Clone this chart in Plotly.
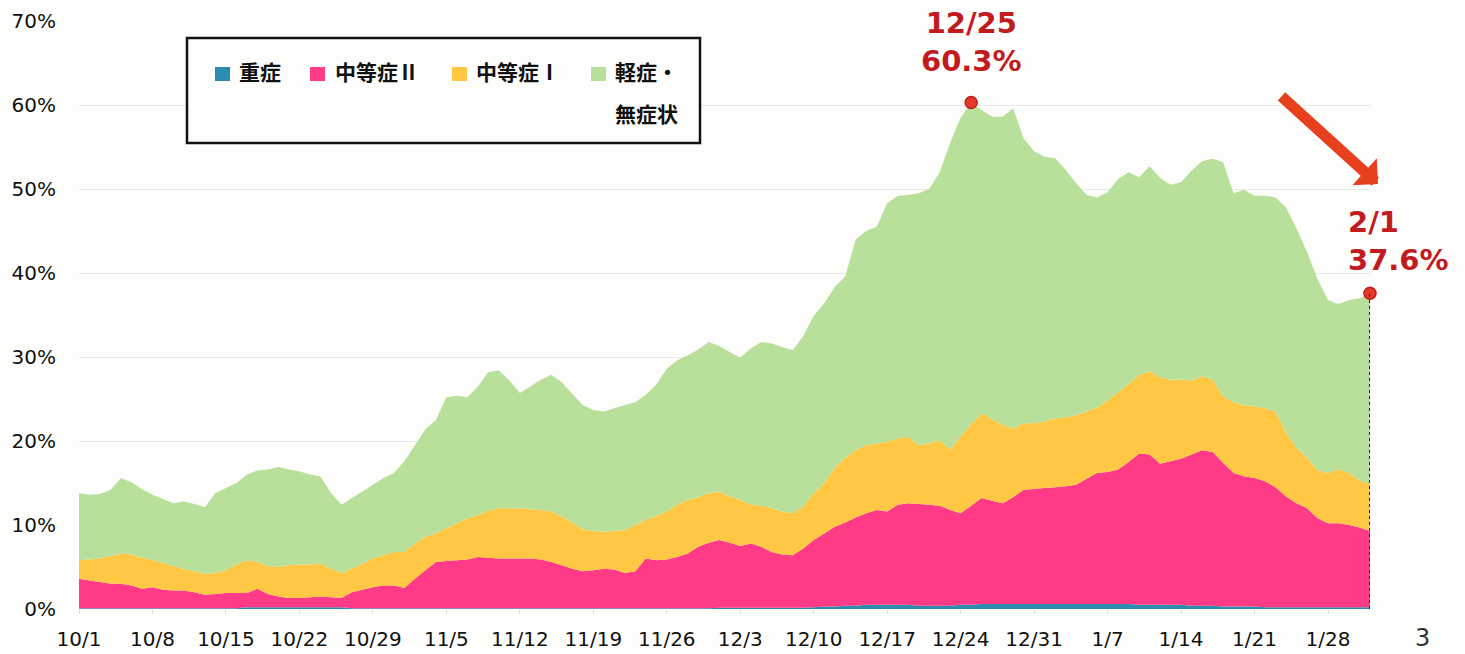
import pandas as pd
import numpy as np
import plotly.graph_objects as go

# ---------------- data (share of beds, %) ----------------
dates = pd.date_range("2020-10-01", "2021-02-01", freq="D")

# top of the stack (total occupancy)
total = [13.8, 13.6, 13.7, 14.2, 15.6, 15.1, 14.3, 13.6, 13.1, 12.6,
         12.8, 12.5, 12.1, 13.8, 14.4, 15.0, 16.0, 16.5, 16.6, 16.9,
         16.6, 16.4, 16.0, 15.8, 13.8, 12.4, 13.2, 14.0, 14.8, 15.6,
         16.2, 17.6, 19.5, 21.4, 22.5, 25.2, 25.4, 25.2, 26.5, 28.2,
         28.4, 27.2, 25.7, 26.5, 27.3, 27.9, 27.0, 25.6, 24.3, 23.7,
         23.5, 23.9, 24.3, 24.6, 25.5, 26.7, 28.6, 29.6, 30.2, 30.9,
         31.8, 31.3, 30.6, 29.9, 31.0, 31.8, 31.6, 31.2, 30.8, 32.5,
         34.9, 36.4, 38.3, 39.6, 44.0, 45.0, 45.5, 48.3, 49.2, 49.3,
         49.5, 50.0, 52.0, 55.5, 58.5, 60.3, 59.4, 58.6, 58.6, 59.6,
         56.0, 54.5, 53.8, 53.7, 52.3, 50.7, 49.3, 49.0, 49.6, 51.2,
         52.0, 51.4, 52.7, 51.3, 50.5, 50.8, 52.2, 53.3, 53.6, 53.2,
         49.5, 49.9, 49.2, 49.2, 49.0, 47.8, 45.3, 42.5, 39.3, 36.8,
         36.3, 36.8, 37.0, 37.6]

# top of the yellow band (severe + moderate II + moderate I)
upto_mod1 = [5.8, 5.9, 6.0, 6.3, 6.6, 6.5, 6.1, 5.8, 5.5, 5.1,
             4.8, 4.5, 4.2, 4.3, 4.6, 5.3, 5.8, 5.6, 5.1, 5.0,
             5.2, 5.3, 5.3, 5.4, 4.8, 4.3, 4.8, 5.4, 6.0, 6.4,
             6.8, 6.8, 7.8, 8.6, 9.0, 9.6, 10.2, 10.8, 11.2, 11.7,
             12.0, 12.0, 12.0, 11.9, 11.8, 11.6, 11.0, 10.3, 9.5, 9.3,
             9.2, 9.3, 9.4, 10.0, 10.6, 11.1, 11.6, 12.4, 13.0, 13.3,
             13.8, 14.0, 13.4, 13.0, 12.4, 12.3, 12.0, 11.6, 11.4, 12.2,
             13.8, 15.0, 16.8, 18.0, 18.9, 19.5, 19.7, 19.9, 20.3, 20.5,
             19.5, 19.7, 20.1, 19.0, 20.6, 22.0, 23.3, 22.6, 21.9, 21.5,
             22.1, 22.1, 22.3, 22.7, 22.8, 23.1, 23.5, 24.0, 24.8, 25.8,
             26.8, 27.9, 28.3, 27.6, 27.3, 27.3, 27.2, 27.7, 27.3, 25.3,
             24.6, 24.3, 24.1, 23.9, 23.5, 21.0, 19.2, 18.0, 16.5, 16.2,
             16.6, 16.2, 15.3, 14.9]

# top of the pink band (severe + moderate II)
upto_mod2 = [3.6, 3.4, 3.2, 3.0, 3.0, 2.8, 2.4, 2.6, 2.3, 2.2,
             2.2, 2.0, 1.7, 1.8, 1.9, 1.9, 1.9, 2.4, 1.8, 1.5,
             1.3, 1.3, 1.4, 1.5, 1.4, 1.3, 2.0, 2.3, 2.6, 2.8,
             2.8, 2.5, 3.6, 4.6, 5.6, 5.7, 5.8, 5.9, 6.2, 6.1,
             6.0, 6.0, 6.0, 6.0, 5.9, 5.6, 5.2, 4.8, 4.5, 4.6,
             4.8, 4.7, 4.3, 4.5, 6.0, 5.8, 5.9, 6.2, 6.6, 7.4,
             7.9, 8.2, 7.9, 7.5, 7.8, 7.4, 6.8, 6.5, 6.4, 7.2,
             8.2, 9.0, 9.8, 10.3, 10.9, 11.4, 11.8, 11.6, 12.4, 12.6,
             12.5, 12.4, 12.3, 11.8, 11.4, 12.3, 13.2, 12.9, 12.6, 13.3,
             14.2, 14.3, 14.4, 14.5, 14.6, 14.8, 15.5, 16.2, 16.3, 16.6,
             17.5, 18.5, 18.4, 17.3, 17.6, 17.9, 18.4, 18.9, 18.7, 17.4,
             16.2, 15.8, 15.6, 15.2, 14.5, 13.4, 12.6, 12.0, 10.8, 10.2,
             10.2, 10.0, 9.7, 9.3]

# severe band
severe = [0.1, 0.1, 0.1, 0.1, 0.1, 0.1, 0.1, 0.1, 0.1, 0.1,
          0.1, 0.1, 0.1, 0.1, 0.1, 0.1, 0.2, 0.2, 0.2, 0.2,
          0.2, 0.2, 0.2, 0.2, 0.2, 0.2, 0.1, 0.1, 0.1, 0.1,
          0.1, 0.1, 0.1, 0.1, 0.1, 0.1, 0.1, 0.1, 0.1, 0.1,
          0.1, 0.1, 0.1, 0.1, 0.1, 0.1, 0.1, 0.1, 0.1, 0.1,
          0.1, 0.1, 0.1, 0.1, 0.1, 0.1, 0.1, 0.1, 0.1, 0.1,
          0.1, 0.15, 0.15, 0.15, 0.15, 0.15, 0.15, 0.15, 0.15, 0.15,
          0.2, 0.3, 0.3, 0.4, 0.4, 0.5, 0.5, 0.5, 0.5, 0.5,
          0.4, 0.4, 0.4, 0.4, 0.5, 0.5, 0.6, 0.6, 0.6, 0.6,
          0.6, 0.6, 0.6, 0.6, 0.6, 0.6, 0.6, 0.6, 0.6, 0.6,
          0.6, 0.5, 0.5, 0.5, 0.5, 0.5, 0.4, 0.4, 0.4, 0.3,
          0.3, 0.3, 0.3, 0.2, 0.2, 0.2, 0.2, 0.2, 0.2, 0.2,
          0.2, 0.2, 0.2, 0.2]

series_names = ["重症", "中等症Ⅱ", "中等症Ⅰ", "軽症・無症状"]
series_colors = ["#2c8db0", "#ff3a86", "#ffc744", "#b9e09b"]

tick_dates = ["2020-10-01", "2020-10-08", "2020-10-15", "2020-10-22", "2020-10-29",
              "2020-11-05", "2020-11-12", "2020-11-19", "2020-11-26", "2020-12-03",
              "2020-12-10", "2020-12-17", "2020-12-24", "2020-12-31", "2021-01-07",
              "2021-01-14", "2021-01-21", "2021-01-28"]
tick_labels = ["10/1", "10/8", "10/15", "10/22", "10/29", "11/5", "11/12", "11/19",
               "11/26", "12/3", "12/10", "12/17", "12/24", "12/31", "1/7", "1/14",
               "1/21", "1/28"]
y_ticks = [0, 10, 20, 30, 40, 50, 60, 70]
y_labels = ["0%", "10%", "20%", "30%", "40%", "50%", "60%", "70%"]

peak_idx = 85      # 12/25
last_idx = 123     # 2/1

# ---------------- derive the stacked components ----------------
sev = np.array(severe)
mod2 = np.array(upto_mod2) - sev
mod1 = np.array(upto_mod1) - np.array(upto_mod2)
mild = np.array(total) - np.array(upto_mod1)
components = [sev, mod2, mod1, mild]

# ---------------- figure ----------------
W, H = 1465, 654
L, R, T, B = 79, 95, 21, 45
PW, PH = W - L - R, H - T - B


def px(x):
    return (x - L) / PW


def py(y):
    return (H - B - y) / PH


fig = go.Figure()
for name, vals, col in zip(series_names, components, series_colors):
    fig.add_trace(go.Scatter(
        x=dates, y=vals, name=name, stackgroup="one", mode="none",
        fillcolor=col, line=dict(width=0), showlegend=False,
        hovertemplate="%{x|%m/%d}: %{y:.1f}%<extra>" + name + "</extra>"))

# highlighted points
fig.add_trace(go.Scatter(
    x=[dates[peak_idx], dates[last_idx]], y=[total[peak_idx], total[last_idx]],
    mode="markers", showlegend=False, cliponaxis=False,
    marker=dict(size=12, color="#e4392a", line=dict(color="#c01e1e", width=1.5))))

# dotted vertical line at 2/1
fig.add_shape(type="line", xref="x", yref="y",
              x0=dates[last_idx], x1=dates[last_idx], y0=0, y1=total[last_idx],
              line=dict(color="#222", width=2, dash="dot"), layer="above")

red = "#c21b1f"
fig.add_annotation(x=dates[peak_idx], xref="x", y=py(42), yref="paper",
                   text=f"{dates[peak_idx].month}/{dates[peak_idx].day}<br>{total[peak_idx]:.1f}%",
                   showarrow=False, xanchor="center", yanchor="middle",
                   font=dict(family="DejaVu Sans", size=29, color=red, weight="bold"))
fig.add_annotation(x=px(1346), xref="paper", y=py(241), yref="paper",
                   text=f"{dates[last_idx].month}/{dates[last_idx].day}<br>{total[last_idx]:.1f}%",
                   showarrow=False, xanchor="left", yanchor="middle", align="left",
                   font=dict(family="DejaVu Sans", size=29, color=red, weight="bold"))

# red arrow
fig.add_annotation(x=px(1378), y=py(184), xref="paper", yref="paper",
                   ax=-98, ay=-89, axref="pixel", ayref="pixel",
                   showarrow=True, arrowhead=1, arrowsize=0.55, arrowwidth=11,
                   arrowcolor="#e6401f", text="")

# custom legend
fig.add_shape(type="rect", xref="paper", yref="paper",
              x0=px(187), x1=px(700), y0=py(143), y1=py(38),
              line=dict(color="#111", width=2.5), fillcolor="#fdfdfb", layer="above")
leg_sq = [215, 310, 452, 591]
leg_tx = [237, 333, 474, 613]
leg_text = ["重症", "中等症Ⅱ", "中等症Ⅰ", "軽症・"]
for sx, tx, txt, col in zip(leg_sq, leg_tx, leg_text, series_colors):
    fig.add_shape(type="rect", xref="paper", yref="paper",
                  x0=px(sx), x1=px(sx + 15), y0=py(81), y1=py(67),
                  line=dict(width=0), fillcolor=col, layer="above")
    fig.add_annotation(x=px(tx), y=py(71), xref="paper", yref="paper", text=txt,
                       showarrow=False, xanchor="left", yanchor="middle",
                       font=dict(family="Noto Sans CJK JP", size=21, color="#111",
                                 weight="bold"))
fig.add_annotation(x=px(613), y=py(113), xref="paper", yref="paper", text="無症状",
                   showarrow=False, xanchor="left", yanchor="middle",
                   font=dict(family="Noto Sans CJK JP", size=21, color="#111", weight="bold"))

# page number
fig.add_annotation(x=px(1422), y=py(638), xref="paper", yref="paper", text="3",
                   showarrow=False, xanchor="center", yanchor="middle",
                   font=dict(family="DejaVu Sans", size=24, color="#333"))

fig.update_layout(
    width=W, height=H,
    margin=dict(l=L, r=R, t=T, b=B, pad=0, autoexpand=False),
    paper_bgcolor="#fdfdfb", plot_bgcolor="#fdfdfb",
    font=dict(family="DejaVu Sans", size=20, color="#111"),
    hovermode="x",
)
fig.update_xaxes(range=[dates[0], dates[last_idx]], tickvals=tick_dates, ticktext=tick_labels,
                 showgrid=False, zeroline=False, showline=False, automargin=False,
                 ticks="outside", ticklen=4, tickcolor="#dddddd",
                 ticklabelstandoff=8, tickfont=dict(size=20))
fig.update_yaxes(range=[0, 70], tickvals=y_ticks, ticktext=y_labels, automargin=False,
                 showgrid=True, gridcolor="#e8e8e8", gridwidth=1, zeroline=False,
                 showline=False, ticks="", ticklabelstandoff=22, tickfont=dict(size=20))

fig.write_html("out.html",
               config={"displayModeBar": False},
               post_script="document.body.style.margin='0px';"
                           "document.body.style.overflow='hidden';"
                           "document.body.style.background='#fdfdfb';")
